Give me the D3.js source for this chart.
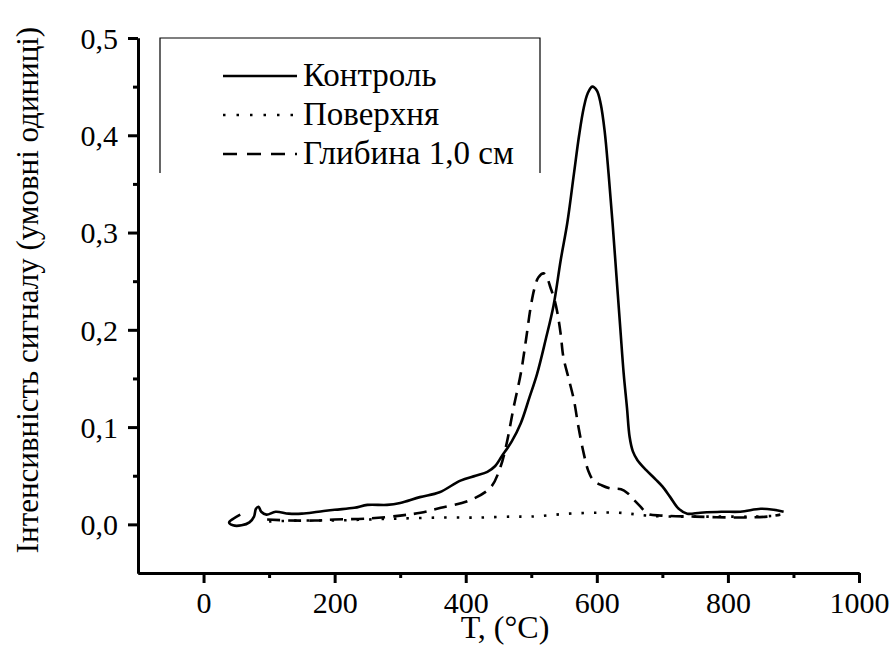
<!DOCTYPE html>
<html>
<head>
<meta charset="utf-8">
<script src="https://cdn.jsdelivr.net/npm/d3@7"></script>
</head>
<body style="margin:0;background:#fff">
<svg id="chart" width="893" height="646" style="display:block"></svg>
<script>
// ---------------- data ----------------
const seriesNames = ["Контроль", "Поверхня", "Глибина 1,0 см"];

const controlT = [56, 46, 39, 45, 58, 70, 77, 80, 84, 88, 96, 110, 130, 150, 175, 200, 230, 250, 280, 300, 330, 360, 392, 415, 433, 445, 455, 470, 484, 497, 509, 522, 534, 545, 555, 565, 573, 580, 586, 593, 600, 606, 612, 618, 624, 630, 636, 641, 646, 650, 655, 662, 675, 690, 700, 712, 725, 738, 758, 790, 819, 850, 870, 885];
const controlV = [0.010, 0.006, 0.002, -0.001, -0.001, 0.002, 0.008, 0.016, 0.018, 0.013, 0.010, 0.013, 0.011, 0.011, 0.013, 0.015, 0.017, 0.020, 0.020, 0.022, 0.028, 0.033, 0.045, 0.050, 0.054, 0.060, 0.070, 0.085, 0.104, 0.130, 0.155, 0.190, 0.225, 0.272, 0.310, 0.360, 0.400, 0.428, 0.443, 0.450, 0.446, 0.432, 0.404, 0.360, 0.310, 0.255, 0.200, 0.155, 0.120, 0.090, 0.075, 0.066, 0.056, 0.046, 0.039, 0.028, 0.016, 0.011, 0.012, 0.013, 0.013, 0.016, 0.015, 0.013];

const surfaceT = [100, 150, 200, 250, 300, 362, 420, 470, 500, 557, 600, 632, 650, 677, 720, 780, 840, 880];
const surfaceV = [0.003, 0.004, 0.004, 0.005, 0.006, 0.007, 0.007, 0.008, 0.008, 0.011, 0.012, 0.012, 0.011, 0.009, 0.008, 0.008, 0.008, 0.009];

const depthT = [97, 130, 170, 200, 250, 300, 331, 362, 407, 438, 453, 463, 473, 484, 492, 499, 505, 511, 519, 525, 529, 535, 540, 545, 549, 557, 565, 572, 580, 587, 595, 608, 621, 637, 647, 657, 667, 677, 700, 750, 819, 860, 880];
const depthV = [0.005, 0.004, 0.004, 0.005, 0.006, 0.009, 0.012, 0.017, 0.025, 0.038, 0.059, 0.085, 0.120, 0.155, 0.190, 0.223, 0.243, 0.254, 0.258, 0.252, 0.244, 0.232, 0.217, 0.195, 0.172, 0.150, 0.128, 0.100, 0.073, 0.055, 0.045, 0.040, 0.037, 0.036, 0.032, 0.025, 0.018, 0.011, 0.009, 0.008, 0.007, 0.008, 0.010];

const xTickValues = [0, 200, 400, 600, 800, 1000];
const xMinorValues = [100, 300, 500, 700, 900];
const yTickValues = [0.0, 0.1, 0.2, 0.3, 0.4, 0.5];
const yTickLabels = ["0,0", "0,1", "0,2", "0,3", "0,4", "0,5"];
const yMinorValues = [0.05, 0.15, 0.25, 0.35, 0.45];

const xTitle = "T, (°C)";
const yTitle = "Інтенсивність сигналу (умовні одиниці)";

// ---------------- drawing ----------------
const FONT = '"Liberation Serif"';
const svg = d3.select("#chart");
const x = d3.scaleLinear().domain([-100, 1000]).range([138, 859]);
const y = d3.scaleLinear().domain([-0.05, 0.5]).range([573, 38]);

// legend box (no bottom edge)
svg.append("path")
  .attr("d", "M160,173V38H540V173")
  .attr("fill", "none").attr("stroke", "#000").attr("stroke-width", 1.2);

// axes
const xAxis = d3.axisBottom(x).tickValues(xTickValues).tickSize(10).tickSizeOuter(0).tickFormat(d3.format("d"));
const gx = svg.append("g").attr("transform", `translate(0,${y(-0.05)})`).call(xAxis);
const xMinor = d3.axisBottom(x).tickValues(xMinorValues).tickSize(5).tickSizeOuter(0).tickFormat("");
const gxm = svg.append("g").attr("transform", `translate(0,${y(-0.05)})`).call(xMinor);

const yAxis = d3.axisLeft(y).tickValues(yTickValues).tickSize(10).tickSizeOuter(0).tickFormat((d, i) => yTickLabels[i]);
const gy = svg.append("g").attr("transform", `translate(${x(-100)},0)`).call(yAxis);
const yMinor = d3.axisLeft(y).tickValues(yMinorValues).tickSize(5).tickSizeOuter(0).tickFormat("");
const gym = svg.append("g").attr("transform", `translate(${x(-100)},0)`).call(yMinor);

[gx, gxm, gy, gym].forEach(g => {
  g.attr("font-family", null).attr("font-size", null);
  g.selectAll(".domain").attr("stroke", "#000").attr("stroke-width", 3);
  g.selectAll(".tick line").attr("stroke", "#000").attr("stroke-width", 3);
  g.selectAll("text").style("font-family", FONT).style("font-size", "30px").attr("fill", "#000");
});
gx.selectAll(".tick text").attr("dy", null).attr("y", 40);
gy.selectAll(".tick text").attr("dy", "0.34em").attr("x", -20);

// axis titles
svg.append("text")
  .attr("x", 505).attr("y", 638)
  .attr("text-anchor", "middle")
  .style("font-family", FONT)
  .style("font-size", "32px")
  .text(xTitle);
svg.append("text")
  .attr("transform", "translate(38,290) rotate(-90)")
  .attr("text-anchor", "middle")
  .style("font-family", FONT)
  .style("font-size", "31px")
  .text(yTitle);

// series
const line = d3.line().x(d => x(d[0])).y(d => y(d[1])).curve(d3.curveCatmullRom.alpha(0.5));
const mk = (T, V) => T.map((t, i) => [t, V[i]]);

const styles = [
  { data: mk(controlT, controlV), dash: null },
  { data: mk(surfaceT, surfaceV), dash: "2.5,10" },
  { data: mk(depthT, depthV), dash: "13,8" }
];

styles.forEach(s => {
  svg.append("path")
    .datum(s.data)
    .attr("d", line)
    .attr("fill", "none")
    .attr("stroke", "#000")
    .attr("stroke-width", 2.6)
    .attr("stroke-linejoin", "round")
    .attr("stroke-dasharray", s.dash);
});

// legend entries
const legendY = [76, 115, 154];
const legendDash = [null, "2.5,11", "14,10"];
seriesNames.forEach((name, i) => {
  svg.append("line")
    .attr("x1", 223).attr("x2", 297)
    .attr("y1", legendY[i]).attr("y2", legendY[i])
    .attr("stroke", "#000").attr("stroke-width", 2.4)
    .attr("stroke-dasharray", legendDash[i]);
  svg.append("text")
    .attr("x", 303).attr("y", legendY[i] + 10)
    .style("font-family", FONT)
    .style("font-size", "33px")
    .text(name);
});
</script>
</body>
</html>
